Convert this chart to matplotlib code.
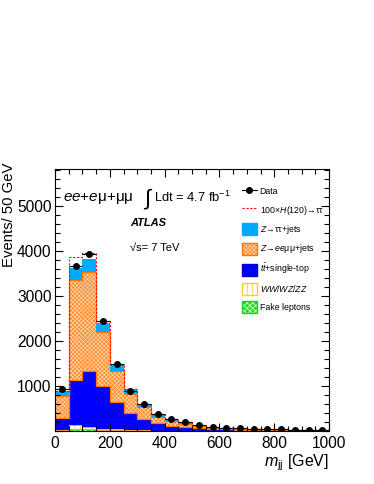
import matplotlib
matplotlib.use("Agg")
import numpy as np
from matplotlib import pyplot as plt
from matplotlib.patches import Patch
from matplotlib.lines import Line2D
from matplotlib.legend_handler import HandlerTuple
from matplotlib.ticker import MultipleLocator

plt.rcParams['font.family'] = ['Liberation Sans', 'DejaVu Sans']
plt.rcParams['mathtext.fontset'] = 'custom'
plt.rcParams['mathtext.rm'] = 'Liberation Sans'
plt.rcParams['mathtext.it'] = 'Liberation Sans:italic'
plt.rcParams['mathtext.bf'] = 'Liberation Sans:bold'
plt.rcParams['hatch.linewidth'] = 0.6

# m_jj bins, 50 GeV wide
edges = np.arange(0, 1050, 50)
centers = edges[:-1] + 25

data = [930, 3670, 3935, 2445, 1480, 890, 595, 372, 268, 193, 133, 90, 73, 66, 45, 40, 37, 30, 22, 20]
fake = [20, 50, 45, 30, 20, 12, 8, 6, 5, 4, 3, 2, 2, 2, 1, 1, 1, 1, 1, 1]
diboson = [10, 80, 55, 25, 15, 10, 7, 5, 4, 3, 2, 2, 2, 1, 1, 1, 1, 1, 1, 1]
ttbar = [260, 1003, 1240, 952, 603, 371, 245, 160, 109, 83, 65, 46, 36, 30, 23, 18, 14, 11, 8, 6]
zll = [490, 2223, 2201, 1193, 702, 422, 267, 147, 112, 70, 40, 25, 20, 17, 13, 12, 10, 8, 7, 6]
ztt = [100, 259, 274, 200, 127, 110, 73, 53, 38, 30, 25, 20, 15, 12, 10, 8, 7, 6, 5, 4]
higgs100 = [20, 245, 155, 50, 30, 18, 10, 7, 5, 4, 3, 2, 2, 1, 1, 1, 1, 1, 1, 1]

fig = plt.figure(figsize=(3.74, 4.84), dpi=100)
ax = fig.add_axes([0.147, 0.1095, 0.733, 0.5415])

# stack, bottom to top
b0 = np.zeros(len(data))
b1 = b0 + fake
b2 = b1 + diboson
b3 = b2 + ttbar
b4 = b3 + zll
b5 = b4 + ztt

# hatch colour is taken from rcParams when the patch is made
plt.rcParams['hatch.color'] = '#ccffcc'
ax.bar(edges[:-1], fake, width=50, bottom=b0, align='edge', facecolor='#22dd22', hatch='xxxxxx', linewidth=0)
fake_leg = Patch(facecolor='#22dd22', hatch='xxxxxx', linewidth=0)
ax.stairs(b1, edges, baseline=b0, color='#22cc22', lw=0.8)
ax.bar(edges[:-1], diboson, width=50, bottom=b1, align='edge', facecolor='white', edgecolor='#ffcc22', hatch='|||', linewidth=0)
ax.stairs(b2, edges, baseline=b1, color='#ffaa22', lw=0.8)
ax.bar(edges[:-1], ttbar, width=50, bottom=b2, align='edge', facecolor='#0000ff', linewidth=0)
plt.rcParams['hatch.color'] = '#ffcc99'
ax.bar(edges[:-1], zll, width=50, bottom=b3, align='edge', facecolor='#ff8c30', hatch='xxxxxxxx', linewidth=0)
zll_leg = Patch(facecolor='#ff8c30', hatch='xxxxxxxx', linewidth=0)
ax.stairs(b4, edges, baseline=b3, color='#ff7700', lw=0.9)
ax.bar(edges[:-1], ztt, width=50, bottom=b4, align='edge', facecolor='#00aaff', linewidth=0)
ax.stairs(b5 + higgs100, edges, baseline=None, color='red', lw=0.8, linestyle=(0, (2, 1.5)))

ax.errorbar(centers, data, xerr=25, yerr=np.sqrt(data), fmt='o', color='black',
            ms=4, elinewidth=0.8, capsize=0)

ax.set_xlim(0, 1000)
ax.set_ylim(0, 5830)
ax.xaxis.set_major_locator(MultipleLocator(200))
ax.xaxis.set_minor_locator(MultipleLocator(50))
ax.yaxis.set_major_locator(MultipleLocator(1000))
ax.yaxis.set_minor_locator(MultipleLocator(200))
ax.tick_params(which='both', direction='in', top=True, right=True, labelsize=11.2)
ax.tick_params(which='major', length=6, width=0.8)
ax.tick_params(which='minor', length=3.5, width=0.8)
ax.tick_params(axis='y', pad=2.5)
ax.set_yticks([0, 1000, 2000, 3000, 4000, 5000])
ax.set_yticklabels(['', '1000', '2000', '3000', '4000', '5000'])

ax.set_ylabel('Events/ 50 GeV', fontsize=10.7, loc='top')
ax.yaxis.set_label_coords(-0.142, 1.023)
ax.set_xlabel(r'$m_{\rm jj}$ [GeV]', fontsize=11.5, loc='right', labelpad=1)

ax.text(0.03, 0.889, r'$ee$+$e$μ+μμ', transform=ax.transAxes, fontsize=11, va='center')
ax.text(0.32, 0.885, r'$\int$', transform=ax.transAxes, fontsize=16, va='center')
ax.text(0.363, 0.893, r'Ldt = 4.7 fb$^{\mathregular{-1}}$', transform=ax.transAxes, fontsize=9.3, va='center')
ax.text(0.275, 0.795, 'ATLAS', transform=ax.transAxes, fontsize=8, fontweight='bold', fontstyle='italic', va='center')
ax.text(0.275, 0.70, '√s= 7 TeV', transform=ax.transAxes, fontsize=8, va='center')

handles = [
    Line2D([], [], color='black', marker='o', ms=4, lw=0.8),
    Line2D([], [], color='red', lw=0.8, linestyle=(0, (2, 1.5))),
    Patch(facecolor='#00aaff', edgecolor='#00aaff'),
    (zll_leg, Patch(facecolor='none', edgecolor='#ff7700', lw=1)),
    Patch(facecolor='#0000ff', edgecolor='#0000cc'),
    Patch(facecolor='white', edgecolor='#ffcc22', hatch='|||', lw=1),
    (fake_leg, Patch(facecolor='none', edgecolor='#22cc22', lw=1)),
]
labels = ['Data', r'100×$H$(120)→ττ', r'$Z$→ττ+jets', r'$Z$→$ee$μμ+jets',
          r'$t\bar{t}$+single-top', r'$WW/WZ/ZZ$', 'Fake leptons']
ax.legend(handles, labels, loc='upper left', bbox_to_anchor=(0.681, 0.937), frameon=False,
          borderpad=0, borderaxespad=0,
          fontsize=6.3, handlelength=1.71, handleheight=1.75, labelspacing=0.72, handletextpad=0.34,
          handler_map={tuple: HandlerTuple(ndivide=1, pad=0)})

plt.savefig('out.png', dpi=100)
